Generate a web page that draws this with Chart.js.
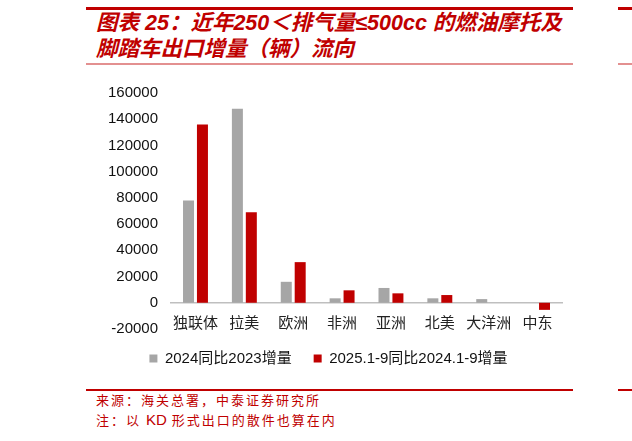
<!DOCTYPE html>
<html>
<head>
<meta charset="utf-8">
<script src="https://cdn.jsdelivr.net/npm/chart.js@4"></script>
<style>
  html, body { margin: 0; padding: 0; background: #fff; }
  body { width: 632px; height: 441px; position: relative; overflow: hidden; font-family: "Liberation Sans", Arial, sans-serif; }
  .bar { position: absolute; }
  .title { position: absolute; left: 96px; top: 10px; width: 500px; color: #c00000; font: italic bold 21.5px/26px "Liberation Sans", "Noto Sans CJK SC", sans-serif; }
  .note { position: absolute; left: 96px; color: #c00000; font: 13px/18px "Noto Sans CJK SC", sans-serif; letter-spacing: 2px; }
  .note .lat { font-family: "Liberation Sans", Arial, sans-serif; font-size: 15px; letter-spacing: 0; }
  #wrap { position: absolute; left: 86px; top: 70px; width: 487px; height: 308px; }
</style>
</head>
<body>
<div class="bar" style="left:86px;top:7px;width:487px;height:3px;background:#c00000"></div>
<div class="bar" style="left:618px;top:7px;width:14px;height:3px;background:#c00000"></div>
<div class="title">图表 25：近年250＜排气量≤500cc 的燃油摩托及<br>脚踏车出口增量（辆）流向</div>
<div class="bar" style="left:86px;top:63px;width:487px;height:2px;background:#e39090"></div>
<div class="bar" style="left:618px;top:63px;width:14px;height:2px;background:#e39090"></div>

<div id="wrap"><canvas id="c"></canvas></div>

<div class="bar" style="left:86px;top:389px;width:487px;height:1.5px;background:#c00000"></div>
<div class="bar" style="left:618px;top:389px;width:14px;height:1.5px;background:#c00000"></div>
<div class="note" style="top:391px">来源：海关总署，中泰证券研究所</div>
<div class="note" style="top:411px">注：以 <span class="lat">KD</span> 形式出口的散件也算在内</div>

<script>
const categories = ['独联体', '拉美', '欧洲', '非洲', '亚洲', '北美', '大洋洲', '中东'];
const increase2024 = [78000, 148000, 16000, 3400, 11300, 3400, 2800, 0];
const increase2025 = [136000, 69000, 31000, 9500, 7200, 5900, 0, -5400];
const seriesNames = ['2024同比2023增量', '2025.1-9同比2024.1-9增量'];
const yTicks = { min: -20000, max: 160000, step: 20000 };

const GRAY = '#a6a6a6';
const RED = '#c00000';

new Chart(document.getElementById('c'), {
  type: 'bar',
  data: {
    labels: categories,
    datasets: [
      { label: seriesNames[0], data: increase2024, backgroundColor: GRAY },
      { label: seriesNames[1], data: increase2025, backgroundColor: RED }
    ]
  },
  options: {
    responsive: true,
    maintainAspectRatio: false,
    animation: false,
    categoryPercentage: 0.57,
    barPercentage: 0.79,
    layout: { padding: { left: 9, right: 11, top: 23, bottom: 2 } },
    plugins: {
      tooltip: { enabled: false },
      legend: {
        position: 'bottom',
        labels: {
          color: '#111',
          boxWidth: 8,
          boxHeight: 8,
          padding: 22,
          font: { family: '"Liberation Sans", "Noto Sans CJK SC", sans-serif', size: 15 }
        }
      }
    },
    scales: {
      x: {
        position: { y: 0 },
        grid: { display: false },
        border: { display: true, color: '#bfbfbf', width: 1.5 },
        ticks: {
          color: '#222',
          padding: 3,
          autoSkip: false,
          maxRotation: 0,
          font: { family: '"Noto Sans CJK SC", sans-serif', size: 15 }
        }
      },
      y: {
        min: yTicks.min,
        max: yTicks.max,
        grid: { display: false, drawTicks: false },
        border: { display: false },
        ticks: {
          stepSize: yTicks.step,
          color: '#111',
          padding: 13,
          font: { family: '"Liberation Sans", Arial, sans-serif', size: 15 },
          callback: v => String(v)
        }
      }
    }
  }
});
</script>
</body>
</html>
